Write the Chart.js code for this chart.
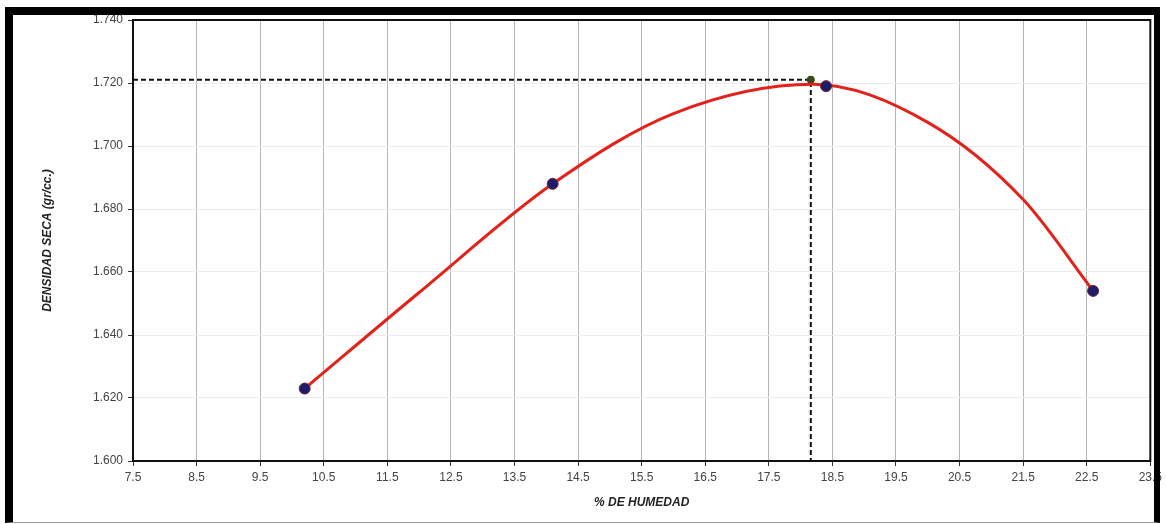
<!DOCTYPE html>
<html>
<head>
<meta charset="utf-8">
<script src="https://cdn.jsdelivr.net/npm/chart.js"></script>
<style>
    html, body { margin: 0; padding: 0; background: #fff; }
    #wrap { position: absolute; left: 0; top: 0; width: 1166px; height: 524px; }
    #frame {
        position: absolute; left: 5px; top: 7px; width: 1141px; height: 507px;
        border-top: 8px solid #000; border-left: 8px solid #000;
        border-right: 6px solid #000; border-bottom: 1px solid #999;
        pointer-events: none; z-index: 2;
    }
    canvas { position: absolute; left: 0; top: 0; }
</style>
</head>
<body>
<div id="wrap">
    <canvas id="proctorChart" width="1166" height="524"></canvas>
    <div id="frame"></div>
</div>
<script>
/* ===========================
   DATA
=========================== */

// ensayo points
const humedad = [10.2, 14.1, 18.4, 22.6];
const densidad = [1.623, 1.688, 1.719, 1.654];

// fitted red curve
const curvaHumedad = [10.2, 12.0, 14.1, 16.0, 18.2, 20.0, 21.5, 22.6];
const curvaDensidad = [1.623, 1.6535, 1.688, 1.7103, 1.7196, 1.7075, 1.683, 1.654];

// optimum (max dry density / optimum moisture)
const humedadOptima = 18.16;
const densidadMaxima = 1.721;

// axis ranges
const xMin = 7.5, xMax = 23.5, xStep = 1;
const yMin = 1.600, yMax = 1.740, yStep = 0.020;

/* ===========================
   PLOT BOX
=========================== */

const plotFrame = {
    id: 'plotFrame',
    beforeDatasetsDraw(chart) {
        const a = chart.chartArea;
        const c = chart.ctx;
        c.save();
        c.strokeStyle = '#111';
        c.lineWidth = 2;
        c.strokeRect(a.left, a.top, a.right - a.left, a.bottom - a.top);
        c.restore();
    }
};

/* ===========================
   CHART.JS CONFIGURATION
=========================== */

const ctx = document.getElementById('proctorChart');

new Chart(ctx, {
    type: 'scatter',
    data: {
        datasets: [
            {
                label: 'Puntos',
                data: humedad.map((x, i) => ({ x: x, y: densidad[i] })),
                backgroundColor: '#1c1c6b',
                borderColor: '#7a2030',
                borderWidth: 1,
                pointRadius: 5.5,
                showLine: false,
                order: 1
            },
            {
                label: 'Curva',
                data: curvaHumedad.map((x, i) => ({ x: x, y: curvaDensidad[i] })),
                borderColor: '#e3231b',
                borderWidth: 3,
                pointRadius: 0,
                showLine: true,
                cubicInterpolationMode: 'monotone',
                order: 2
            },
            {
                label: 'Optimo',
                data: [
                    { x: xMin, y: densidadMaxima },
                    { x: humedadOptima, y: densidadMaxima },
                    { x: humedadOptima, y: yMin }
                ],
                borderColor: '#111',
                borderWidth: 2,
                borderDash: [5, 3],
                showLine: true,
                pointRadius: [0, 3, 0],
                pointBackgroundColor: '#3b4a1c',
                pointBorderColor: '#3b4a1c',
                order: 3
            }
        ]
    },
    options: {
        responsive: false,
        animation: false,
        layout: {
            padding: { left: 0, top: 20, right: 14, bottom: 0 }
        },
        scales: {
            x: {
                type: 'linear',
                min: xMin,
                max: xMax,
                afterFit: (scale) => { scale.height = 63; },
                ticks: {
                    stepSize: xStep,
                    autoSkip: false,
                    maxRotation: 0,
                    padding: 4,
                    color: '#444',
                    font: { family: 'Liberation Sans', size: 12 },
                    callback: (v) => Number(v).toFixed(1)
                },
                grid: {
                    color: '#b4b4b4',
                    tickColor: '#333',
                    tickLength: 5
                },
                border: { color: '#111', width: 2 },
                title: {
                    display: true,
                    text: '% DE HUMEDAD',
                    color: '#222',
                    padding: { top: 0, bottom: 14 },
                    font: { family: 'Liberation Sans', size: 12, weight: 'bold', style: 'italic' }
                }
            },
            y: {
                min: yMin,
                max: yMax,
                afterFit: (scale) => { scale.width = 133; },
                ticks: {
                    stepSize: yStep,
                    padding: 5,
                    color: '#444',
                    font: { family: 'Liberation Sans', size: 12 },
                    callback: (v) => Number(v).toFixed(3)
                },
                grid: {
                    color: '#ebebeb',
                    tickColor: '#333',
                    tickLength: 5
                },
                border: { color: '#111', width: 2 },
                title: {
                    display: true,
                    text: 'DENSIDAD SECA (gr/cc.)',
                    color: '#222',
                    padding: { top: 40, bottom: 0 },
                    font: { family: 'Liberation Sans', size: 12, weight: 'bold', style: 'italic' }
                }
            }
        },
        plugins: {
            legend: { display: false },
            tooltip: { enabled: false }
        }
    },
    plugins: [plotFrame]
});
</script>
</body>
</html>
